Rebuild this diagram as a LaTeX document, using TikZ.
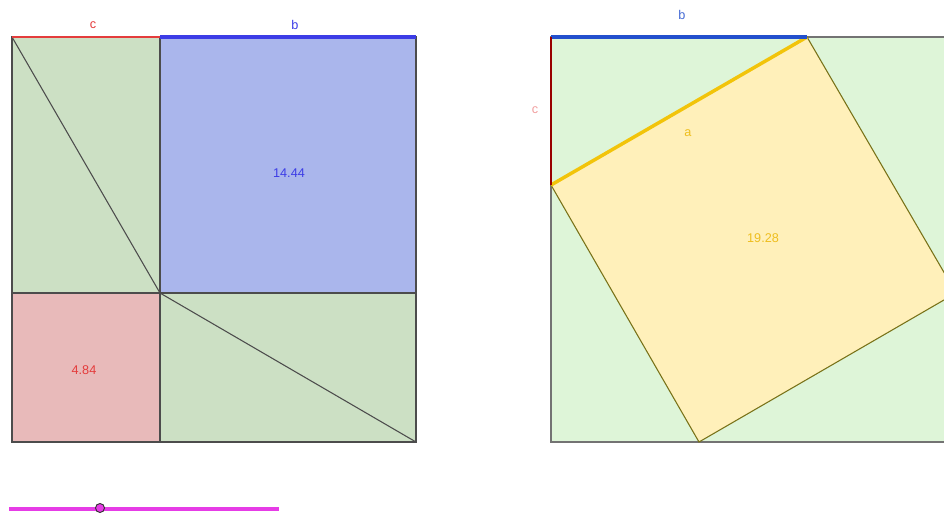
\documentclass[tikz,border=0pt]{standalone}
\usepackage{fontspec}
\setmainfont{Liberation Sans}
\begin{document}
\begin{tikzpicture}[x=0.75pt, y=-0.75pt, font=\fontsize{9.5}{11}\selectfont]
	    \tikzset{edge/.style={draw=black!70, line width=0.8pt}}
	    \definecolor{lgreen}{RGB}{204,224,196}
	    \definecolor{rgreen}{RGB}{222,245,216}
	    \definecolor{bfill}{RGB}{170,182,236}
	    \definecolor{bline}{RGB}{60,60,230}
	    \definecolor{rbline}{RGB}{35,80,205}
	    \definecolor{rfill}{RGB}{232,186,186}
	    \definecolor{rline}{RGB}{228,60,60}
	    \definecolor{yfill}{RGB}{255,240,186}
	    \definecolor{yline}{RGB}{242,196,10}
	    \definecolor{ytext}{RGB}{238,190,30}
	    \definecolor{slider}{RGB}{230,60,230}
	    \useasboundingbox (0,0) rectangle (944,514);
	    \clip (0,0) rectangle (944,514);
	    % left square
	    \coordinate (TL) at (12,37);
	    \coordinate (TM) at (160,37);
	    \coordinate (TR) at (416,37);
	    \coordinate (ML) at (12,293);
	    \coordinate (M) at (160,293);
	    \coordinate (MR) at (416,293);
	    \coordinate (BL) at (12,442);
	    \coordinate (BM) at (160,442);
	    \coordinate (BR) at (416,442);
	    \fill [lgreen] (TL) rectangle (BR);
	    \fill [bfill] (TM) rectangle (MR);
	    \fill [rfill] (ML) rectangle (BM);
	    \draw [edge] (TL) rectangle (BR);
	    \draw [edge] (TM) -- (BM);
	    \draw [edge] (ML) -- (MR);
	    \draw [edge] (TL) -- (M) -- (BR);
	    \draw [rline, line width=1.8pt] (TL) -- (TM);
	    \draw [bline, line width=2.4pt] (TM) -- (TR);
	    \node [text=rline] (lc) at (93,25) {c};
	    \node [text=bline] (lb) at (295,25) {b};
	    \node [text=bline] (area1) at (289,173) {14.44};
	    \node [text=rline] (area2) at (84,370) {4.84};
	    % right square
	    \coordinate (P) at (551,37);
	    \coordinate (Q) at (956,442);
	    \coordinate (A) at (551,185);
	    \coordinate (B) at (807,37);
	    \coordinate (C) at (956,293);
	    \coordinate (D) at (699,442);
	    \fill [rgreen] (P) rectangle (Q);
	    \draw [edge, draw=black!55] (P) rectangle (Q);
	    \filldraw [fill=yfill, draw=black!20!olive, line width=0.8pt] (A) -- (B) -- (C) -- (D) -- cycle;
	    \draw [yline, line width=2.6pt] (A) -- (B);
	    \draw [rbline, line width=2.4pt] (P) -- (B);
	    \draw [red!60!black, line width=0.9pt] (P) -- (A);
	    \node [text=rbline!85] (rb) at (682,15) {b};
	    \node [text=rline!50] (rc) at (535,110) {c};
	    \node [text=ytext] (ra) at (688,133) {a};
	    \node [text=ytext] (area3) at (763,238) {19.28};
	    % slider
	    \coordinate (S1) at (9,509);
	    \coordinate (S2) at (279,509);
	    \draw [slider, line width=2.4pt] (S1) -- (S2);
	    \filldraw [fill=slider, draw=black!80, line width=0.7pt] (100,508) circle (4.5);
\end{tikzpicture}
\end{document}
